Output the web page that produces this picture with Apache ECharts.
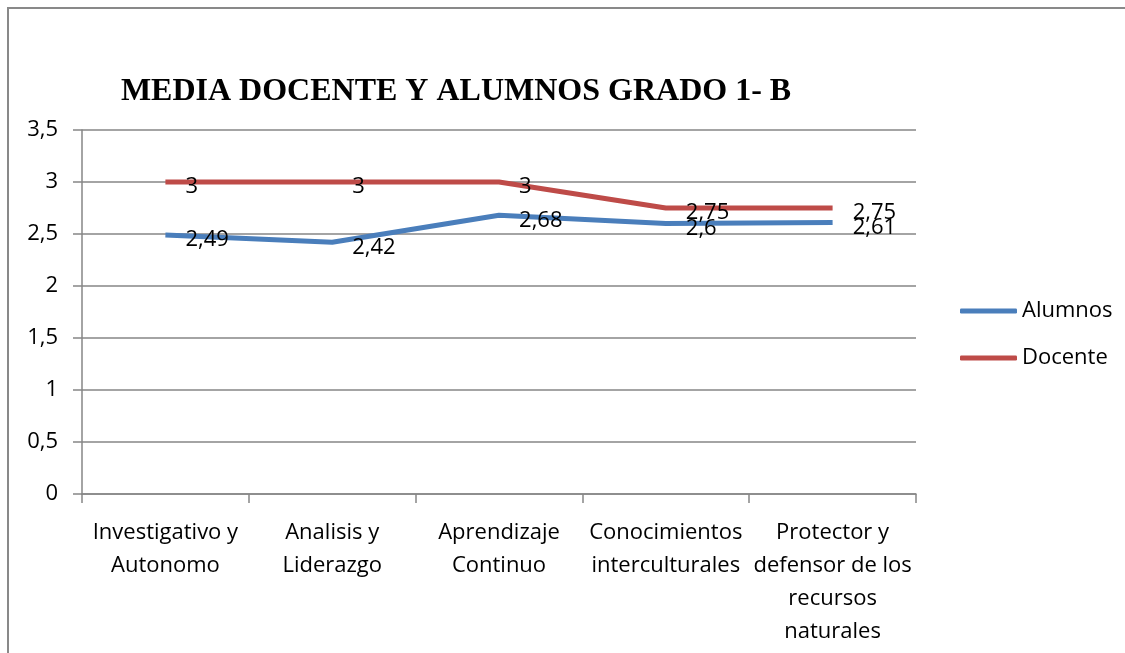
<!DOCTYPE html>
<html>
<head>
<meta charset="utf-8" />
<title>Media docente y alumnos</title>
<style type="text/css">
body{ margin:0; background:#fff; }
#chart{ width:1125px; height:653px; }
</style>
</head>
<body>
<div id="chart"></div>
<script src="https://cdn.jsdelivr.net/npm/echarts@6/dist/echarts.min.js"></script>
<script type="text/javascript">
// datos
var categorias = ['Investigativo y\nAutonomo', 'Analisis y\nLiderazgo', 'Aprendizaje\nContinuo', 'Conocimientos\ninterculturales', 'Protector y\ndefensor de los\nrecursos\nnaturales'];
var alumnos = [2.49, 2.42, 2.68, 2.6, 2.61];
var docente = [3, 3, 3, 2.75, 2.75];
var ejeY = [0, 0.5, 1, 1.5, 2, 2.5, 3, 3.5];

var fuente = "'Open Sans', 'Noto Sans', sans-serif";
function coma(v){ return String(v).replace('.', ','); }

var myChart = echarts.init(document.getElementById('chart'));

var etiqueta = {
    show: true,
    position: 'right',
    distance: 20,
    offset: [0, 5],
    color: '#000',
    fontFamily: fuente,
    fontSize: 22,
    formatter: function(p){ return coma(p.value); }
};

var option = {
    animation: false,
    title: {
        text: 'MEDIA DOCENTE Y ALUMNOS GRADO 1- B',
        left: 451,
        textAlign: 'center',
        top: 71,
        textStyle: {
            fontFamily: "'Liberation Serif', 'DejaVu Serif', serif",
            fontWeight: 'bold',
            fontSize: 32,
            color: '#000'
        }
    },
    graphic: [{
        type: 'rect',
        shape: { x: 8, y: 8, width: 1130, height: 660 },
        style: { fill: null, stroke: '#898989', lineWidth: 2 }
    }],
    legend: {
        orient: 'vertical',
        left: 955,
        top: 295,
        itemWidth: 57,
        itemHeight: 5,
        itemGap: 25,
        icon: 'roundRect',
        textStyle: { fontFamily: fuente, fontSize: 22, color: '#000' },
        data: ['Alumnos', 'Docente']
    },
    grid: { left: 82, right: 209, top: 130, bottom: 159 },
    xAxis: {
        type: 'category',
        data: categorias,
        boundaryGap: true,
        axisLine: { lineStyle: { color: '#868686', width: 1.5 } },
        axisTick: { show: true, length: 9, lineStyle: { color: '#868686', width: 1.5 } },
        axisLabel: {
            interval: 0,
            margin: 22,
            color: '#000',
            fontFamily: fuente,
            fontSize: 22,
            lineHeight: 33
        }
    },
    yAxis: {
        type: 'value',
        min: ejeY[0],
        max: ejeY[ejeY.length - 1],
        interval: 0.5,
        axisLine: { show: true, lineStyle: { color: '#868686', width: 1.5 } },
        axisTick: { show: true, length: 9, lineStyle: { color: '#868686', width: 1.5 } },
        splitLine: { show: true, lineStyle: { color: '#868686', width: 1.5 } },
        axisLabel: {
            margin: 24,
            color: '#000',
            fontFamily: fuente,
            fontSize: 22,
            formatter: function(v){ return coma(v); }
        }
    },
    series: [
        {
            name: 'Alumnos',
            type: 'line',
            data: alumnos,
            symbol: 'circle',
            symbolSize: 0.1,
            showSymbol: true,
            lineStyle: { color: '#4A7EBB', width: 5 },
            itemStyle: { color: '#4A7EBB' },
            label: etiqueta
        },
        {
            name: 'Docente',
            type: 'line',
            data: docente,
            symbol: 'circle',
            symbolSize: 0.1,
            showSymbol: true,
            lineStyle: { color: '#BE4B48', width: 5 },
            itemStyle: { color: '#BE4B48' },
            label: etiqueta
        }
    ]
};

if (option && typeof option === "object") {
    myChart.setOption(option, true);
}
</script>
</body>
</html>
